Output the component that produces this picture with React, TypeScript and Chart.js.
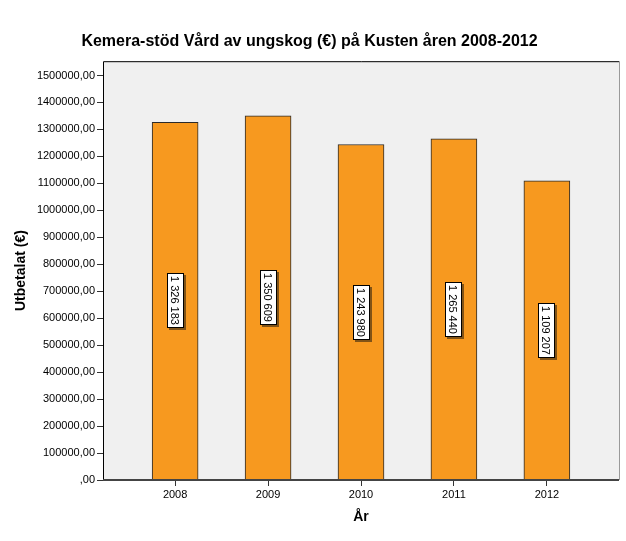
import React, { useEffect, useRef } from "react";
import { Chart, registerables } from "chart.js";

Chart.register(...registerables);

const years = ["2008", "2009", "2010", "2011", "2012"];
const values = [1326183, 1350609, 1243980, 1265440, 1109207];
const valueLabels = ["1 326 183", "1 350 609", "1 243 980", "1 265 440", "1 109 207"];
const yTickStep = 100000;
const yTickMax = 1500000;
const yAxisMax = 1553000;

const FONT = "'Liberation Sans', Arial, sans-serif";

const plotFrame = {
  id: "plotFrame",
  beforeDraw(chart: any) {
    const { ctx, chartArea: a } = chart;
    ctx.save();
    ctx.fillStyle = "#F0F0F0";
    ctx.fillRect(a.left, a.top, a.right - a.left, a.bottom - a.top);
    ctx.restore();
  },
  afterDatasetsDraw(chart: any) {
    const { ctx, chartArea: a } = chart;
    ctx.save();
    ctx.strokeStyle = "#9A9A9A";
    ctx.lineWidth = 1;
    ctx.beginPath();
    ctx.moveTo(a.right + 0.5, a.top);
    ctx.lineTo(a.right + 0.5, a.bottom);
    ctx.stroke();
    ctx.strokeStyle = "#000";
    ctx.beginPath();
    ctx.moveTo(a.left + 0.5, a.bottom);
    ctx.lineTo(a.left + 0.5, a.top + 0.5);
    ctx.lineTo(a.right, a.top + 0.5);
    ctx.stroke();
    ctx.strokeStyle = "#444";
    ctx.lineWidth = 2;
    ctx.beginPath();
    ctx.moveTo(a.left, a.bottom);
    ctx.lineTo(a.right, a.bottom);
    ctx.stroke();
    ctx.restore();
  },
};

const barLabels = {
  id: "barLabels",
  afterDraw(chart: any) {
    const { ctx } = chart;
    const meta = chart.getDatasetMeta(0);
    ctx.save();
    ctx.font = `11px ${FONT}`;
    meta.data.forEach((el: any, i: number) => {
      const text = valueLabels[i];
      const cx = el.x;
      const cy = (el.y + el.base) / 2;
      const tw = ctx.measureText(text).width;
      const len = Math.round(tw + 6);
      const thick = 17;
      const x0 = Math.round(cx - thick / 2);
      const y0 = Math.round(cy - len / 2);
      ctx.fillStyle = "rgba(90,60,20,0.75)";
      ctx.fillRect(x0 + 2, y0 + 2, thick, len);
      ctx.fillStyle = "#fff";
      ctx.fillRect(x0, y0, thick, len);
      ctx.strokeStyle = "#000";
      ctx.lineWidth = 1;
      ctx.strokeRect(x0 + 0.5, y0 + 0.5, thick - 1, len - 1);
      ctx.save();
      ctx.translate(x0 + thick / 2, y0 + len / 2);
      ctx.rotate(Math.PI / 2);
      ctx.fillStyle = "#000";
      ctx.textAlign = "center";
      ctx.textBaseline = "middle";
      ctx.fillText(text, 0, 1);
      ctx.restore();
    });
    ctx.restore();
  },
};

export default function App() {
  const ref = useRef<HTMLCanvasElement>(null);
  useEffect(() => {
    document.body.style.margin = "0";
    const canvas = ref.current!;
    const chart = new Chart(canvas, {
      type: "bar",
      data: {
        datasets: [
          {
            data: values.map((v, i) => ({ x: i, y: v })),
            backgroundColor: "#F7991F",
            borderColor: "#2A2A2A",
            borderWidth: 1,
            barThickness: 46,
          },
        ],
      },
      options: {
        responsive: false,
        animation: false,
        layout: { padding: { left: 0, right: 7, top: 0, bottom: 0 } },
        plugins: {
          legend: { display: false },
          tooltip: { enabled: false },
          title: {
            display: true,
            text: "Kemera-stöd Vård av ungskog (€) på Kusten åren 2008-2012",
            color: "#000",
            font: { family: FONT, size: 16, weight: "bold", lineHeight: 1.2 },
            padding: { top: 32, bottom: 10 },
          },
        },
        scales: {
          x: {
            type: "linear",
            offset: false,
            min: -0.776,
            max: 4.776,
            afterBuildTicks: (axis: any) => {
              axis.ticks = years.map((_, i) => ({ value: i }));
            },
            afterFit: (axis: any) => {
              axis.height = 61;
            },
            grid: {
              offset: false,
              drawOnChartArea: false,
              drawTicks: true,
              tickLength: 6,
              color: "#333",
              lineWidth: 1,
            },
            border: { display: false },
            ticks: {
              autoSkip: false,
              maxRotation: 0,
              padding: 2,
              color: "#000",
              font: { family: FONT, size: 11 },
              callback: (v: any) => years[v] ?? "",
            },
            title: {
              display: true,
              text: "År",
              color: "#000",
              font: { family: FONT, size: 14, weight: "bold", lineHeight: 1.2 },
              padding: { top: 0, bottom: 15 },
            },
          },
          y: {
            min: 0,
            max: yAxisMax,
            afterBuildTicks: (axis: any) => {
              const t: any[] = [];
              for (let v = 0; v <= yTickMax; v += yTickStep) t.push({ value: v });
              axis.ticks = t;
            },
            afterFit: (axis: any) => {
              axis.width = 103;
            },
            grid: {
              drawOnChartArea: false,
              drawTicks: true,
              tickLength: 6,
              color: "#333",
              lineWidth: 1,
            },
            border: { display: false },
            ticks: {
              autoSkip: false,
              padding: 2,
              color: "#000",
              font: { family: FONT, size: 11 },
              callback: (v: any) => (v === 0 ? ",00" : `${v},00`),
            },
            title: {
              display: true,
              text: "Utbetalat (€)",
              color: "#000",
              font: { family: FONT, size: 14, weight: "bold", lineHeight: 1.2 },
              padding: { top: 13, bottom: 0 },
            },
          },
        },
      },
      plugins: [plotFrame, barLabels],
    });
    return () => chart.destroy();
  }, []);
  return (
    <div style={{ width: 626, height: 541, background: "#fff" }}>
      <canvas ref={ref} width={626} height={541} style={{ display: "block" }} />
    </div>
  );
}
